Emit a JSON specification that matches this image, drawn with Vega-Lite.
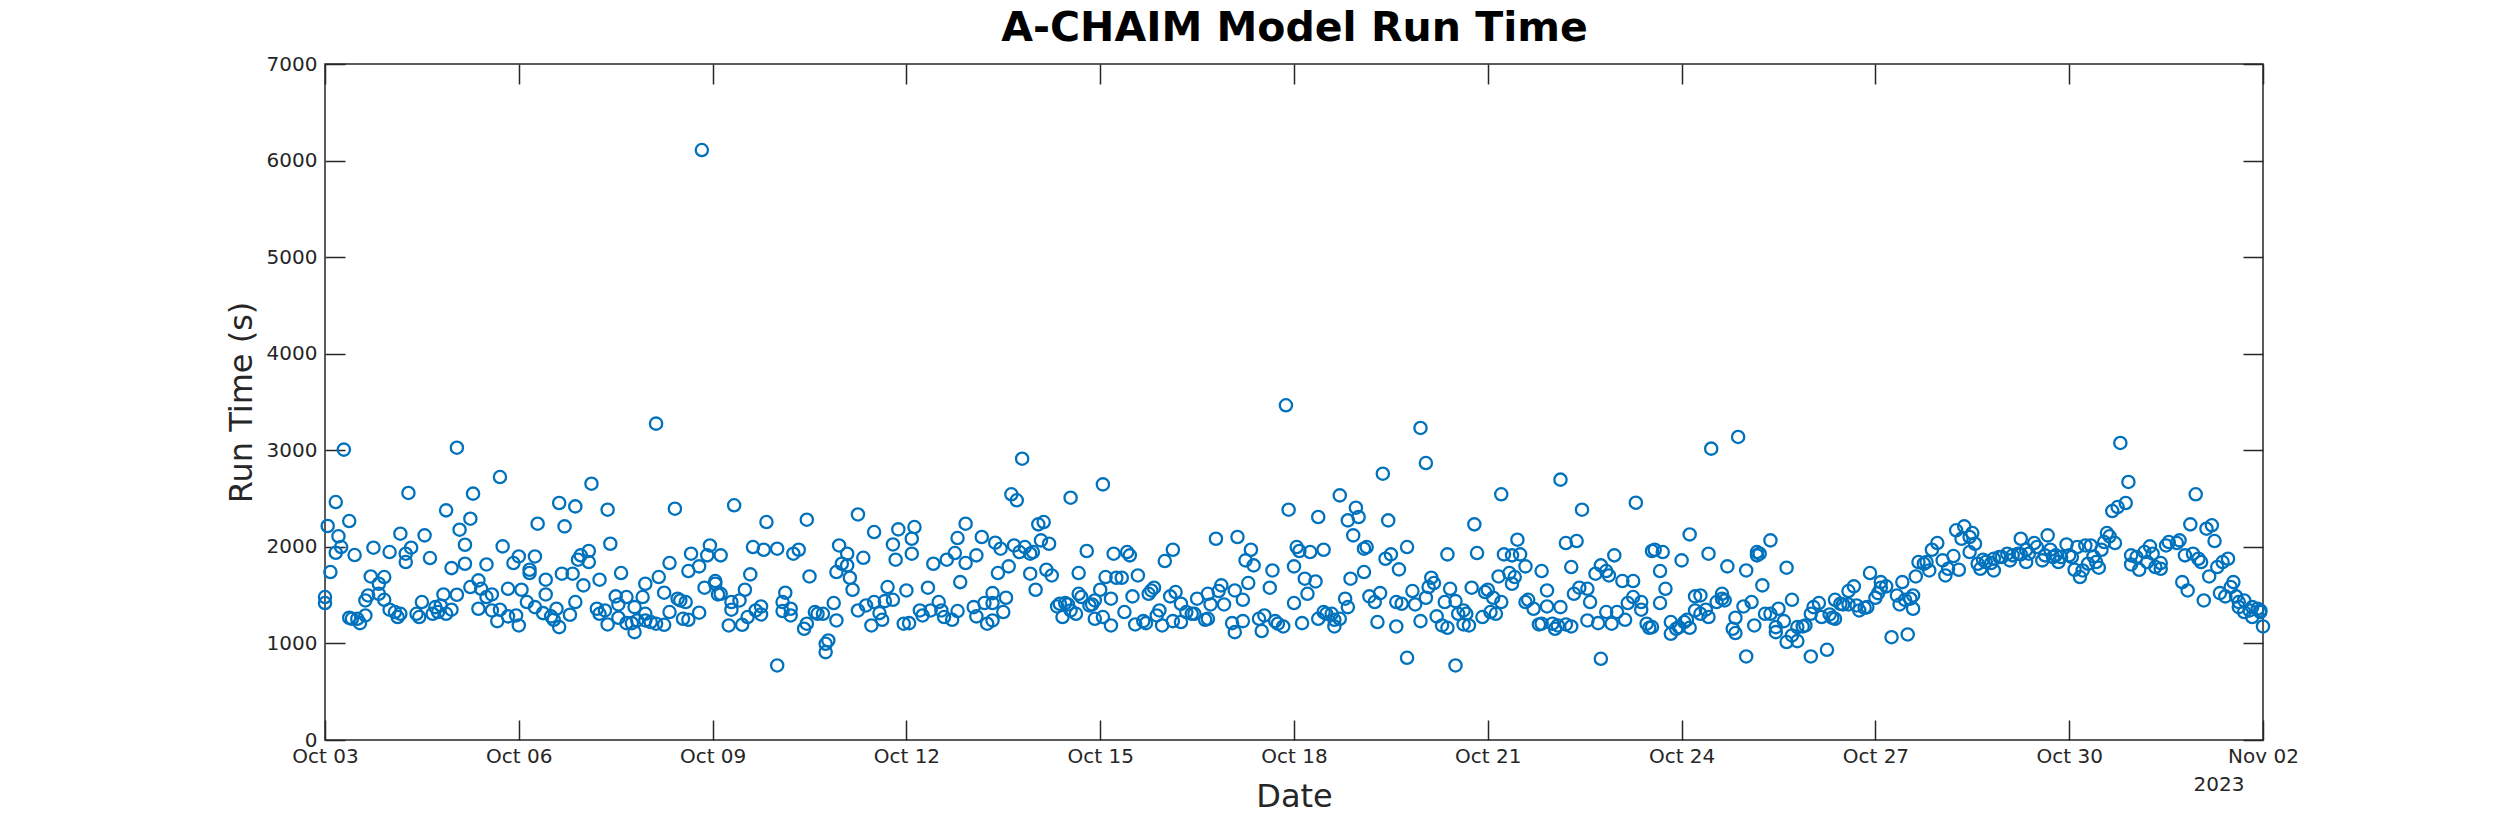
{
  "$schema": "https://vega.github.io/schema/vega-lite/v6.json",
  "background": "white",
  "autosize": {"type": "none"},
  "padding": {"left": 325, "top": 64, "right": 237, "bottom": 93},
  "width": 1938,
  "height": 676,
  "data": {
    "values": [
      {"t":"2023-10-03T00:00","v":1480},{"t":"2023-10-03T00:00","v":1418},{"t":"2023-10-03T01:00","v":2216},{"t":"2023-10-03T02:00","v":1739},
      {"t":"2023-10-03T04:00","v":2464},{"t":"2023-10-03T04:00","v":1939},{"t":"2023-10-03T05:00","v":2109},{"t":"2023-10-03T06:00","v":1998},
      {"t":"2023-10-03T07:00","v":3007},{"t":"2023-10-03T09:00","v":2267},{"t":"2023-10-03T09:00","v":1266},{"t":"2023-10-03T11:00","v":1915},
      {"t":"2023-10-03T10:00","v":1255},{"t":"2023-10-03T12:00","v":1255},{"t":"2023-10-03T13:00","v":1210},{"t":"2023-10-03T15:00","v":1290},
      {"t":"2023-10-03T15:00","v":1445},{"t":"2023-10-03T16:00","v":1497},{"t":"2023-10-03T17:00","v":1694},{"t":"2023-10-03T18:00","v":1991},
      {"t":"2023-10-03T20:00","v":1618},{"t":"2023-10-03T20:00","v":1514},{"t":"2023-10-03T22:00","v":1687},{"t":"2023-10-03T22:00","v":1452},
      {"t":"2023-10-04T00:00","v":1946},{"t":"2023-10-04T00:00","v":1349},{"t":"2023-10-04T02:00","v":1325},{"t":"2023-10-04T03:00","v":1273},
      {"t":"2023-10-04T04:00","v":2136},{"t":"2023-10-04T04:00","v":1307},{"t":"2023-10-04T06:00","v":1929},{"t":"2023-10-04T06:00","v":1843},
      {"t":"2023-10-04T07:00","v":2558},{"t":"2023-10-04T08:00","v":1991},{"t":"2023-10-04T10:00","v":1307},{"t":"2023-10-04T11:00","v":1273},
      {"t":"2023-10-04T12:00","v":1428},{"t":"2023-10-04T13:00","v":2119},{"t":"2023-10-04T15:00","v":1884},{"t":"2023-10-04T16:00","v":1307},
      {"t":"2023-10-04T17:00","v":1376},{"t":"2023-10-04T18:00","v":1325},{"t":"2023-10-04T19:00","v":1393},{"t":"2023-10-04T20:00","v":1507},
      {"t":"2023-10-04T21:00","v":2378},{"t":"2023-10-04T21:00","v":1307},{"t":"2023-10-04T23:00","v":1780},{"t":"2023-10-04T23:00","v":1349},
      {"t":"2023-10-05T01:00","v":3027},{"t":"2023-10-05T01:00","v":1504},{"t":"2023-10-05T02:00","v":2178},{"t":"2023-10-05T04:00","v":2022},
      {"t":"2023-10-05T04:00","v":1825},{"t":"2023-10-05T06:00","v":2292},{"t":"2023-10-05T06:00","v":1584},{"t":"2023-10-05T07:00","v":2551},
      {"t":"2023-10-05T09:00","v":1653},{"t":"2023-10-05T09:00","v":1359},{"t":"2023-10-05T10:00","v":1566},{"t":"2023-10-05T12:00","v":1818},
      {"t":"2023-10-05T12:00","v":1480},{"t":"2023-10-05T14:00","v":1342},{"t":"2023-10-05T14:00","v":1507},{"t":"2023-10-05T16:00","v":1231},
      {"t":"2023-10-05T17:00","v":2723},{"t":"2023-10-05T17:00","v":1349},{"t":"2023-10-05T18:00","v":2005},{"t":"2023-10-05T20:00","v":1566},
      {"t":"2023-10-05T20:00","v":1280},{"t":"2023-10-05T22:00","v":1832},{"t":"2023-10-05T23:00","v":1290},
      {"t":"2023-10-06T00:00","v":1186},{"t":"2023-10-06T00:00","v":1901},{"t":"2023-10-06T01:00","v":1556},{"t":"2023-10-06T03:00","v":1428},
      {"t":"2023-10-06T04:00","v":1763},{"t":"2023-10-06T04:00","v":1729},{"t":"2023-10-06T06:00","v":1901},{"t":"2023-10-06T06:00","v":1376},
      {"t":"2023-10-06T07:00","v":2240},{"t":"2023-10-06T09:00","v":1314},{"t":"2023-10-06T10:00","v":1660},{"t":"2023-10-06T10:00","v":1507},
      {"t":"2023-10-06T12:00","v":1280},{"t":"2023-10-06T13:00","v":1245},{"t":"2023-10-06T14:00","v":1359},{"t":"2023-10-06T15:00","v":1169},
      {"t":"2023-10-06T15:00","v":2454},{"t":"2023-10-06T16:00","v":1722},{"t":"2023-10-06T17:00","v":2212},{"t":"2023-10-06T19:00","v":1297},
      {"t":"2023-10-06T20:00","v":1722},{"t":"2023-10-06T21:00","v":2419},{"t":"2023-10-06T21:00","v":1428},{"t":"2023-10-06T22:00","v":1867},
      {"t":"2023-10-06T23:00","v":1912},
      {"t":"2023-10-07T00:00","v":1601},{"t":"2023-10-07T02:00","v":1957},{"t":"2023-10-07T02:00","v":1843},{"t":"2023-10-07T03:00","v":2654},
      {"t":"2023-10-07T05:00","v":1359},{"t":"2023-10-07T06:00","v":1307},{"t":"2023-10-07T06:00","v":1660},{"t":"2023-10-07T08:00","v":1342},
      {"t":"2023-10-07T09:00","v":2385},{"t":"2023-10-07T09:00","v":1197},{"t":"2023-10-07T10:00","v":2032},{"t":"2023-10-07T12:00","v":1487},
      {"t":"2023-10-07T13:00","v":1404},{"t":"2023-10-07T13:00","v":1266},{"t":"2023-10-07T14:00","v":1729},{"t":"2023-10-07T16:00","v":1480},
      {"t":"2023-10-07T16:00","v":1210},{"t":"2023-10-07T18:00","v":1210},{"t":"2023-10-07T19:00","v":1376},{"t":"2023-10-07T19:00","v":1117},
      {"t":"2023-10-07T20:00","v":1238},{"t":"2023-10-07T22:00","v":1480},{"t":"2023-10-07T23:00","v":1618},{"t":"2023-10-07T23:00","v":1307},
      {"t":"2023-10-07T23:00","v":1238},
      {"t":"2023-10-08T01:00","v":1221},{"t":"2023-10-08T03:00","v":3276},{"t":"2023-10-08T04:00","v":1687},{"t":"2023-10-08T03:00","v":1204},
      {"t":"2023-10-08T06:00","v":1525},{"t":"2023-10-08T06:00","v":1193},{"t":"2023-10-08T08:00","v":1832},{"t":"2023-10-08T08:00","v":1325},
      {"t":"2023-10-08T10:00","v":2395},{"t":"2023-10-08T11:00","v":1463},{"t":"2023-10-08T12:00","v":1445},{"t":"2023-10-08T13:00","v":1255},
      {"t":"2023-10-08T14:00","v":1428},{"t":"2023-10-08T15:00","v":1749},{"t":"2023-10-08T15:00","v":1245},{"t":"2023-10-08T16:00","v":1929},
      {"t":"2023-10-08T19:00","v":1798},{"t":"2023-10-08T19:00","v":1318},{"t":"2023-10-08T20:00","v":6109},{"t":"2023-10-08T21:00","v":1577},
      {"t":"2023-10-08T22:00","v":1912},{"t":"2023-10-08T23:00","v":2015},
      {"t":"2023-10-09T01:00","v":1646},{"t":"2023-10-09T01:00","v":1618},{"t":"2023-10-09T02:00","v":1507},{"t":"2023-10-09T03:00","v":1912},
      {"t":"2023-10-09T03:00","v":1514},{"t":"2023-10-09T06:00","v":1186},{"t":"2023-10-09T07:00","v":1349},{"t":"2023-10-09T07:00","v":1428},
      {"t":"2023-10-09T08:00","v":2430},{"t":"2023-10-09T10:00","v":1445},{"t":"2023-10-09T11:00","v":1193},{"t":"2023-10-09T12:00","v":1556},
      {"t":"2023-10-09T13:00","v":1273},{"t":"2023-10-09T14:00","v":1715},{"t":"2023-10-09T15:00","v":1998},{"t":"2023-10-09T16:00","v":1342},
      {"t":"2023-10-09T18:00","v":1383},{"t":"2023-10-09T18:00","v":1300},{"t":"2023-10-09T19:00","v":1970},{"t":"2023-10-09T20:00","v":2257},
      {"t":"2023-10-10T00:00","v":772},{"t":"2023-10-10T00:00","v":1981},{"t":"2023-10-10T02:00","v":1428},{"t":"2023-10-10T02:00","v":1335},
      {"t":"2023-10-10T03:00","v":1525},{"t":"2023-10-10T05:00","v":1359},{"t":"2023-10-10T05:00","v":1290},{"t":"2023-10-10T06:00","v":1929},
      {"t":"2023-10-10T08:00","v":1970},{"t":"2023-10-10T10:00","v":1152},{"t":"2023-10-10T11:00","v":2281},{"t":"2023-10-10T11:00","v":1204},
      {"t":"2023-10-10T12:00","v":1694},{"t":"2023-10-10T14:00","v":1325},{"t":"2023-10-10T15:00","v":1307},{"t":"2023-10-10T17:00","v":1307},
      {"t":"2023-10-10T18:00","v":996},{"t":"2023-10-10T18:00","v":910},{"t":"2023-10-10T19:00","v":1031},{"t":"2023-10-10T21:00","v":1418},
      {"t":"2023-10-10T22:00","v":1739},{"t":"2023-10-10T22:00","v":1238},{"t":"2023-10-10T23:00","v":2015},
      {"t":"2023-10-11T00:00","v":1825},{"t":"2023-10-11T02:00","v":1929},{"t":"2023-10-11T02:00","v":1808},{"t":"2023-10-11T03:00","v":1680},
      {"t":"2023-10-11T04:00","v":1556},{"t":"2023-10-11T06:00","v":1342},{"t":"2023-10-11T06:00","v":2336},{"t":"2023-10-11T08:00","v":1887},
      {"t":"2023-10-11T09:00","v":1393},{"t":"2023-10-11T11:00","v":1186},{"t":"2023-10-11T12:00","v":1428},{"t":"2023-10-11T12:00","v":2153},
      {"t":"2023-10-11T14:00","v":1314},{"t":"2023-10-11T15:00","v":1245},{"t":"2023-10-11T16:00","v":1438},{"t":"2023-10-11T17:00","v":1584},
      {"t":"2023-10-11T19:00","v":1452},{"t":"2023-10-11T19:00","v":2025},{"t":"2023-10-11T20:00","v":1867},{"t":"2023-10-11T21:00","v":2181},
      {"t":"2023-10-11T23:00","v":1204},
      {"t":"2023-10-12T00:00","v":1549},{"t":"2023-10-12T01:00","v":1210},{"t":"2023-10-12T02:00","v":1929},{"t":"2023-10-12T02:00","v":2084},
      {"t":"2023-10-12T03:00","v":2205},{"t":"2023-10-12T05:00","v":1342},{"t":"2023-10-12T06:00","v":1290},{"t":"2023-10-12T08:00","v":1577},
      {"t":"2023-10-12T09:00","v":1342},{"t":"2023-10-12T10:00","v":1825},{"t":"2023-10-12T12:00","v":1428},{"t":"2023-10-12T13:00","v":1342},
      {"t":"2023-10-12T14:00","v":1273},{"t":"2023-10-12T15:00","v":1867},{"t":"2023-10-12T17:00","v":1245},{"t":"2023-10-12T18:00","v":1936},
      {"t":"2023-10-12T19:00","v":2091},{"t":"2023-10-12T19:00","v":1335},{"t":"2023-10-12T20:00","v":1635},{"t":"2023-10-12T22:00","v":1832},
      {"t":"2023-10-12T22:00","v":2240},
      {"t":"2023-10-13T01:00","v":1376},{"t":"2023-10-13T02:00","v":1912},{"t":"2023-10-13T02:00","v":1280},{"t":"2023-10-13T04:00","v":2102},
      {"t":"2023-10-13T05:00","v":1418},{"t":"2023-10-13T06:00","v":1204},{"t":"2023-10-13T08:00","v":1418},{"t":"2023-10-13T08:00","v":1521},
      {"t":"2023-10-13T08:00","v":1238},{"t":"2023-10-13T09:00","v":2043},{"t":"2023-10-13T10:00","v":1729},{"t":"2023-10-13T11:00","v":1981},
      {"t":"2023-10-13T12:00","v":1325},{"t":"2023-10-13T13:00","v":1473},{"t":"2023-10-13T14:00","v":1798},{"t":"2023-10-13T15:00","v":2544},
      {"t":"2023-10-13T16:00","v":2015},{"t":"2023-10-13T17:00","v":2482},{"t":"2023-10-13T18:00","v":1946},{"t":"2023-10-13T19:00","v":2913},
      {"t":"2023-10-13T20:00","v":1998},{"t":"2023-10-13T22:00","v":1929},{"t":"2023-10-13T22:00","v":1722},{"t":"2023-10-13T23:00","v":1946},
      {"t":"2023-10-14T00:00","v":1556},{"t":"2023-10-14T01:00","v":2233},{"t":"2023-10-14T02:00","v":2067},{"t":"2023-10-14T03:00","v":2257},
      {"t":"2023-10-14T04:00","v":1763},{"t":"2023-10-14T05:00","v":2032},{"t":"2023-10-14T06:00","v":1704},{"t":"2023-10-14T08:00","v":1383},
      {"t":"2023-10-14T09:00","v":1411},{"t":"2023-10-14T10:00","v":1273},{"t":"2023-10-14T11:00","v":1418},{"t":"2023-10-14T12:00","v":1404},
      {"t":"2023-10-14T13:00","v":2509},{"t":"2023-10-14T13:00","v":1342},{"t":"2023-10-14T15:00","v":1307},{"t":"2023-10-14T16:00","v":1729},
      {"t":"2023-10-14T16:00","v":1514},{"t":"2023-10-14T17:00","v":1480},{"t":"2023-10-14T19:00","v":1957},{"t":"2023-10-14T20:00","v":1393},
      {"t":"2023-10-14T21:00","v":1404},{"t":"2023-10-14T22:00","v":1255},{"t":"2023-10-14T22:00","v":1445},
      {"t":"2023-10-15T00:00","v":1556},{"t":"2023-10-15T01:00","v":2647},{"t":"2023-10-15T01:00","v":1273},{"t":"2023-10-15T02:00","v":1687},
      {"t":"2023-10-15T04:00","v":1463},{"t":"2023-10-15T04:00","v":1186},{"t":"2023-10-15T05:00","v":1929},{"t":"2023-10-15T06:00","v":1680},
      {"t":"2023-10-15T08:00","v":1680},{"t":"2023-10-15T09:00","v":1325},{"t":"2023-10-15T10:00","v":1946},{"t":"2023-10-15T11:00","v":1912},
      {"t":"2023-10-15T12:00","v":1487},{"t":"2023-10-15T13:00","v":1197},{"t":"2023-10-15T14:00","v":1704},{"t":"2023-10-15T16:00","v":1231},
      {"t":"2023-10-15T17:00","v":1210},{"t":"2023-10-15T18:00","v":1514},{"t":"2023-10-15T19:00","v":1549},{"t":"2023-10-15T20:00","v":1577},
      {"t":"2023-10-15T21:00","v":1290},{"t":"2023-10-15T22:00","v":1342},{"t":"2023-10-15T23:00","v":1186},
      {"t":"2023-10-16T00:00","v":1853},{"t":"2023-10-16T02:00","v":1487},{"t":"2023-10-16T03:00","v":1970},{"t":"2023-10-16T03:00","v":1231},
      {"t":"2023-10-16T04:00","v":1532},{"t":"2023-10-16T06:00","v":1411},{"t":"2023-10-16T06:00","v":1221},{"t":"2023-10-16T08:00","v":1325},
      {"t":"2023-10-16T10:00","v":1307},{"t":"2023-10-16T11:00","v":1307},{"t":"2023-10-16T12:00","v":1463},{"t":"2023-10-16T15:00","v":1245},
      {"t":"2023-10-16T16:00","v":1514},{"t":"2023-10-16T16:00","v":1255},{"t":"2023-10-16T17:00","v":1404},{"t":"2023-10-16T19:00","v":2084},
      {"t":"2023-10-16T20:00","v":1542},{"t":"2023-10-16T21:00","v":1601},{"t":"2023-10-16T22:00","v":1404},
      {"t":"2023-10-17T01:00","v":1210},{"t":"2023-10-17T02:00","v":1117},{"t":"2023-10-17T02:00","v":1549},{"t":"2023-10-17T03:00","v":2102},
      {"t":"2023-10-17T05:00","v":1452},{"t":"2023-10-17T05:00","v":1231},{"t":"2023-10-17T06:00","v":1860},{"t":"2023-10-17T07:00","v":1625},
      {"t":"2023-10-17T08:00","v":1970},{"t":"2023-10-17T09:00","v":1808},{"t":"2023-10-17T11:00","v":1255},{"t":"2023-10-17T12:00","v":1128},
      {"t":"2023-10-17T13:00","v":1290},{"t":"2023-10-17T15:00","v":1577},{"t":"2023-10-17T16:00","v":1756},{"t":"2023-10-17T17:00","v":1231},
      {"t":"2023-10-17T18:00","v":1204},{"t":"2023-10-17T20:00","v":1176},{"t":"2023-10-17T21:00","v":3466},{"t":"2023-10-17T22:00","v":2385},
      {"t":"2023-10-18T00:00","v":1418},{"t":"2023-10-18T00:00","v":1798},{"t":"2023-10-18T01:00","v":1998},{"t":"2023-10-18T02:00","v":1957},
      {"t":"2023-10-18T03:00","v":1210},{"t":"2023-10-18T04:00","v":1670},{"t":"2023-10-18T05:00","v":1514},{"t":"2023-10-18T06:00","v":1946},
      {"t":"2023-10-18T08:00","v":1642},{"t":"2023-10-18T09:00","v":2309},{"t":"2023-10-18T09:00","v":1255},{"t":"2023-10-18T11:00","v":1325},
      {"t":"2023-10-18T11:00","v":1970},{"t":"2023-10-18T12:00","v":1307},{"t":"2023-10-18T14:00","v":1307},{"t":"2023-10-18T15:00","v":1176},
      {"t":"2023-10-18T15:00","v":1245},{"t":"2023-10-18T17:00","v":2533},{"t":"2023-10-18T17:00","v":1255},{"t":"2023-10-18T19:00","v":1463},
      {"t":"2023-10-18T20:00","v":1376},{"t":"2023-10-18T20:00","v":2274},{"t":"2023-10-18T21:00","v":1670},{"t":"2023-10-18T22:00","v":2119},
      {"t":"2023-10-18T23:00","v":2406},
      {"t":"2023-10-19T00:00","v":2309},{"t":"2023-10-19T02:00","v":1981},{"t":"2023-10-19T02:00","v":1739},{"t":"2023-10-19T03:00","v":1998},
      {"t":"2023-10-19T04:00","v":1487},{"t":"2023-10-19T06:00","v":1428},{"t":"2023-10-19T07:00","v":1221},{"t":"2023-10-19T08:00","v":1521},
      {"t":"2023-10-19T09:00","v":2758},{"t":"2023-10-19T10:00","v":1877},{"t":"2023-10-19T11:00","v":2274},{"t":"2023-10-19T12:00","v":1922},
      {"t":"2023-10-19T14:00","v":1428},{"t":"2023-10-19T14:00","v":1176},{"t":"2023-10-19T15:00","v":1767},{"t":"2023-10-19T16:00","v":1411},
      {"t":"2023-10-19T18:00","v":1998},{"t":"2023-10-19T18:00","v":851},{"t":"2023-10-19T20:00","v":1542},{"t":"2023-10-19T21:00","v":1404},
      {"t":"2023-10-19T23:00","v":3231},{"t":"2023-10-19T23:00","v":1231},
      {"t":"2023-10-20T01:00","v":2868},{"t":"2023-10-20T01:00","v":1473},{"t":"2023-10-20T02:00","v":1584},{"t":"2023-10-20T03:00","v":1680},
      {"t":"2023-10-20T04:00","v":1625},{"t":"2023-10-20T05:00","v":1280},{"t":"2023-10-20T07:00","v":1186},{"t":"2023-10-20T08:00","v":1428},
      {"t":"2023-10-20T09:00","v":1162},{"t":"2023-10-20T09:00","v":1922},{"t":"2023-10-20T10:00","v":1566},{"t":"2023-10-20T12:00","v":772},
      {"t":"2023-10-20T12:00","v":1438},{"t":"2023-10-20T13:00","v":1307},{"t":"2023-10-20T15:00","v":1342},{"t":"2023-10-20T15:00","v":1197},
      {"t":"2023-10-20T16:00","v":1307},{"t":"2023-10-20T17:00","v":1186},{"t":"2023-10-20T18:00","v":1577},{"t":"2023-10-20T19:00","v":2233},
      {"t":"2023-10-20T20:00","v":1936},{"t":"2023-10-20T22:00","v":1273},{"t":"2023-10-20T23:00","v":1532},
      {"t":"2023-10-21T00:00","v":1556},{"t":"2023-10-21T01:00","v":1325},{"t":"2023-10-21T02:00","v":1473},{"t":"2023-10-21T03:00","v":1307},
      {"t":"2023-10-21T04:00","v":1694},{"t":"2023-10-21T05:00","v":2544},{"t":"2023-10-21T05:00","v":1428},{"t":"2023-10-21T06:00","v":1922},
      {"t":"2023-10-21T08:00","v":1729},{"t":"2023-10-21T09:00","v":1912},{"t":"2023-10-21T09:00","v":1618},{"t":"2023-10-21T10:00","v":1687},
      {"t":"2023-10-21T11:00","v":2074},{"t":"2023-10-21T12:00","v":1922},{"t":"2023-10-21T14:00","v":1428},{"t":"2023-10-21T14:00","v":1798},
      {"t":"2023-10-21T15:00","v":1452},{"t":"2023-10-21T17:00","v":1359},{"t":"2023-10-21T19:00","v":1197},{"t":"2023-10-21T20:00","v":1204},
      {"t":"2023-10-21T20:00","v":1749},{"t":"2023-10-21T22:00","v":1549},{"t":"2023-10-21T22:00","v":1383},
      {"t":"2023-10-22T00:00","v":1204},{"t":"2023-10-22T01:00","v":1152},{"t":"2023-10-22T02:00","v":1186},{"t":"2023-10-22T03:00","v":2696},
      {"t":"2023-10-22T03:00","v":1376},{"t":"2023-10-22T05:00","v":2039},{"t":"2023-10-22T05:00","v":1197},{"t":"2023-10-22T07:00","v":1791},
      {"t":"2023-10-22T07:00","v":1176},{"t":"2023-10-22T08:00","v":1514},{"t":"2023-10-22T09:00","v":2060},{"t":"2023-10-22T10:00","v":1577},
      {"t":"2023-10-22T11:00","v":2385},{"t":"2023-10-22T13:00","v":1566},{"t":"2023-10-22T13:00","v":1238},{"t":"2023-10-22T14:00","v":1428},
      {"t":"2023-10-22T16:00","v":1722},{"t":"2023-10-22T17:00","v":1210},{"t":"2023-10-22T18:00","v":841},{"t":"2023-10-22T18:00","v":1808},
      {"t":"2023-10-22T20:00","v":1749},{"t":"2023-10-22T20:00","v":1325},{"t":"2023-10-22T21:00","v":1704},{"t":"2023-10-22T22:00","v":1204},
      {"t":"2023-10-22T23:00","v":1912},
      {"t":"2023-10-23T00:00","v":1325},{"t":"2023-10-23T02:00","v":1646},{"t":"2023-10-23T03:00","v":1245},{"t":"2023-10-23T04:00","v":1418},
      {"t":"2023-10-23T06:00","v":1646},{"t":"2023-10-23T06:00","v":1480},{"t":"2023-10-23T07:00","v":2457},{"t":"2023-10-23T09:00","v":1428},
      {"t":"2023-10-23T09:00","v":1349},{"t":"2023-10-23T11:00","v":1204},{"t":"2023-10-23T12:00","v":1162},{"t":"2023-10-23T13:00","v":1169},
      {"t":"2023-10-23T13:00","v":1957},{"t":"2023-10-23T14:00","v":1970},{"t":"2023-10-23T16:00","v":1749},{"t":"2023-10-23T16:00","v":1418},
      {"t":"2023-10-23T17:00","v":1946},{"t":"2023-10-23T18:00","v":1566},{"t":"2023-10-23T20:00","v":1221},{"t":"2023-10-23T20:00","v":1100},
      {"t":"2023-10-23T22:00","v":1152},{"t":"2023-10-23T23:00","v":1169},
      {"t":"2023-10-24T00:00","v":1860},{"t":"2023-10-24T01:00","v":1221},{"t":"2023-10-24T02:00","v":1245},{"t":"2023-10-24T03:00","v":2129},
      {"t":"2023-10-24T03:00","v":1162},{"t":"2023-10-24T05:00","v":1487},{"t":"2023-10-24T05:00","v":1342},{"t":"2023-10-24T07:00","v":1497},
      {"t":"2023-10-24T07:00","v":1307},{"t":"2023-10-24T09:00","v":1349},{"t":"2023-10-24T10:00","v":1929},{"t":"2023-10-24T10:00","v":1273},
      {"t":"2023-10-24T11:00","v":3017},{"t":"2023-10-24T13:00","v":1428},{"t":"2023-10-24T15:00","v":1463},{"t":"2023-10-24T15:00","v":1514},
      {"t":"2023-10-24T16:00","v":1445},{"t":"2023-10-24T17:00","v":1798},{"t":"2023-10-24T19:00","v":1152},{"t":"2023-10-24T20:00","v":1107},
      {"t":"2023-10-24T20:00","v":1266},{"t":"2023-10-24T21:00","v":3138},{"t":"2023-10-24T23:00","v":1383},
      {"t":"2023-10-25T00:00","v":865},{"t":"2023-10-25T00:00","v":1756},{"t":"2023-10-25T02:00","v":1428},{"t":"2023-10-25T03:00","v":1186},
      {"t":"2023-10-25T04:00","v":1912},{"t":"2023-10-25T04:00","v":1946},{"t":"2023-10-25T05:00","v":1929},{"t":"2023-10-25T06:00","v":1601},
      {"t":"2023-10-25T07:00","v":1307},{"t":"2023-10-25T09:00","v":1307},{"t":"2023-10-25T09:00","v":2067},{"t":"2023-10-25T11:00","v":1169},
      {"t":"2023-10-25T11:00","v":1117},{"t":"2023-10-25T12:00","v":1359},{"t":"2023-10-25T14:00","v":1231},{"t":"2023-10-25T15:00","v":1014},
      {"t":"2023-10-25T15:00","v":1784},{"t":"2023-10-25T17:00","v":1083},{"t":"2023-10-25T17:00","v":1452},{"t":"2023-10-25T19:00","v":1169},
      {"t":"2023-10-25T19:00","v":1024},{"t":"2023-10-25T21:00","v":1176},{"t":"2023-10-25T22:00","v":1186},
      {"t":"2023-10-26T00:00","v":865},{"t":"2023-10-26T00:00","v":1307},{"t":"2023-10-26T01:00","v":1376},{"t":"2023-10-26T03:00","v":1418},
      {"t":"2023-10-26T04:00","v":1273},{"t":"2023-10-26T06:00","v":934},{"t":"2023-10-26T07:00","v":1300},{"t":"2023-10-26T08:00","v":1266},
      {"t":"2023-10-26T09:00","v":1255},{"t":"2023-10-26T09:00","v":1452},{"t":"2023-10-26T11:00","v":1411},{"t":"2023-10-26T12:00","v":1404},
      {"t":"2023-10-26T14:00","v":1542},{"t":"2023-10-26T14:00","v":1404},{"t":"2023-10-26T16:00","v":1591},{"t":"2023-10-26T17:00","v":1393},
      {"t":"2023-10-26T18:00","v":1342},{"t":"2023-10-26T20:00","v":1369},{"t":"2023-10-26T21:00","v":1376},{"t":"2023-10-26T22:00","v":1729},
      {"t":"2023-10-27T00:00","v":1473},{"t":"2023-10-27T01:00","v":1521},{"t":"2023-10-27T02:00","v":1577},{"t":"2023-10-27T02:00","v":1635},
      {"t":"2023-10-27T04:00","v":1591},{"t":"2023-10-27T06:00","v":1065},{"t":"2023-10-27T08:00","v":1497},{"t":"2023-10-27T09:00","v":1404},
      {"t":"2023-10-27T10:00","v":1635},{"t":"2023-10-27T11:00","v":1452},{"t":"2023-10-27T12:00","v":1093},{"t":"2023-10-27T13:00","v":1463},
      {"t":"2023-10-27T14:00","v":1497},{"t":"2023-10-27T14:00","v":1359},{"t":"2023-10-27T15:00","v":1694},{"t":"2023-10-27T16:00","v":1843},
      {"t":"2023-10-27T18:00","v":1825},{"t":"2023-10-27T19:00","v":1843},{"t":"2023-10-27T20:00","v":1756},{"t":"2023-10-27T21:00","v":1970},
      {"t":"2023-10-27T23:00","v":2039},
      {"t":"2023-10-28T01:00","v":1860},{"t":"2023-10-28T02:00","v":1704},{"t":"2023-10-28T03:00","v":1773},{"t":"2023-10-28T05:00","v":1905},
      {"t":"2023-10-28T06:00","v":2171},{"t":"2023-10-28T07:00","v":1763},{"t":"2023-10-28T08:00","v":2084},{"t":"2023-10-28T09:00","v":2212},
      {"t":"2023-10-28T11:00","v":2102},{"t":"2023-10-28T11:00","v":1946},{"t":"2023-10-28T12:00","v":2143},{"t":"2023-10-28T13:00","v":2032},
      {"t":"2023-10-28T14:00","v":1825},{"t":"2023-10-28T15:00","v":1773},{"t":"2023-10-28T16:00","v":1867},{"t":"2023-10-28T17:00","v":1843},
      {"t":"2023-10-28T19:00","v":1832},{"t":"2023-10-28T20:00","v":1756},{"t":"2023-10-28T20:00","v":1877},{"t":"2023-10-28T22:00","v":1894},
      {"t":"2023-10-28T23:00","v":1894},
      {"t":"2023-10-29T01:00","v":1929},{"t":"2023-10-29T02:00","v":1860},{"t":"2023-10-29T03:00","v":1912},{"t":"2023-10-29T05:00","v":1929},
      {"t":"2023-10-29T06:00","v":2084},{"t":"2023-10-29T06:00","v":1922},{"t":"2023-10-29T08:00","v":1970},{"t":"2023-10-29T08:00","v":1843},
      {"t":"2023-10-29T09:00","v":1929},{"t":"2023-10-29T11:00","v":2039},{"t":"2023-10-29T12:00","v":1998},{"t":"2023-10-29T14:00","v":1860},
      {"t":"2023-10-29T15:00","v":1912},{"t":"2023-10-29T16:00","v":2119},{"t":"2023-10-29T17:00","v":1970},{"t":"2023-10-29T18:00","v":1894},
      {"t":"2023-10-29T19:00","v":1912},{"t":"2023-10-29T20:00","v":1843},{"t":"2023-10-29T21:00","v":1894},{"t":"2023-10-29T23:00","v":2025},
      {"t":"2023-10-30T00:00","v":1912},{"t":"2023-10-30T01:00","v":1894},{"t":"2023-10-30T02:00","v":1763},{"t":"2023-10-30T03:00","v":1998},
      {"t":"2023-10-30T04:00","v":1687},{"t":"2023-10-30T05:00","v":1756},{"t":"2023-10-30T06:00","v":2015},{"t":"2023-10-30T07:00","v":1825},
      {"t":"2023-10-30T08:00","v":2015},{"t":"2023-10-30T09:00","v":1901},{"t":"2023-10-30T10:00","v":1843},{"t":"2023-10-30T11:00","v":1784},
      {"t":"2023-10-30T12:00","v":1970},{"t":"2023-10-30T13:00","v":2050},{"t":"2023-10-30T14:00","v":2143},{"t":"2023-10-30T15:00","v":2109},
      {"t":"2023-10-30T16:00","v":2371},{"t":"2023-10-30T17:00","v":2039},{"t":"2023-10-30T18:00","v":2412},{"t":"2023-10-30T19:00","v":3076},
      {"t":"2023-10-30T21:00","v":2454},{"t":"2023-10-30T22:00","v":2672},{"t":"2023-10-30T23:00","v":1912},{"t":"2023-10-30T23:00","v":1818},
      {"t":"2023-10-31T01:00","v":1894},{"t":"2023-10-31T02:00","v":1763},{"t":"2023-10-31T04:00","v":1946},{"t":"2023-10-31T05:00","v":1843},
      {"t":"2023-10-31T06:00","v":2005},{"t":"2023-10-31T07:00","v":1929},{"t":"2023-10-31T08:00","v":1791},{"t":"2023-10-31T10:00","v":1832},
      {"t":"2023-10-31T10:00","v":1773},{"t":"2023-10-31T12:00","v":2015},{"t":"2023-10-31T13:00","v":2050},{"t":"2023-10-31T16:00","v":2039},
      {"t":"2023-10-31T17:00","v":2067},{"t":"2023-10-31T18:00","v":1635},{"t":"2023-10-31T19:00","v":1912},{"t":"2023-10-31T20:00","v":1549},
      {"t":"2023-10-31T21:00","v":2233},{"t":"2023-10-31T22:00","v":1929},{"t":"2023-10-31T23:00","v":2544},
      {"t":"2023-11-01T00:00","v":1877},{"t":"2023-11-01T01:00","v":1843},{"t":"2023-11-01T02:00","v":1445},{"t":"2023-11-01T03:00","v":2188},
      {"t":"2023-11-01T04:00","v":1694},{"t":"2023-11-01T05:00","v":2223},{"t":"2023-11-01T06:00","v":2060},{"t":"2023-11-01T07:00","v":1791},
      {"t":"2023-11-01T08:00","v":1521},{"t":"2023-11-01T09:00","v":1843},{"t":"2023-11-01T10:00","v":1487},{"t":"2023-11-01T11:00","v":1877},
      {"t":"2023-11-01T12:00","v":1584},{"t":"2023-11-01T13:00","v":1635},{"t":"2023-11-01T14:00","v":1487},{"t":"2023-11-01T15:00","v":1428},
      {"t":"2023-11-01T15:00","v":1376},{"t":"2023-11-01T17:00","v":1445},{"t":"2023-11-01T17:00","v":1325},{"t":"2023-11-01T19:00","v":1342},
      {"t":"2023-11-01T20:00","v":1273},{"t":"2023-11-01T20:00","v":1376},{"t":"2023-11-01T22:00","v":1359},{"t":"2023-11-01T23:00","v":1342},
      {"t":"2023-11-01T23:00","v":1325},{"t":"2023-11-02T00:00","v":1176}
    ]
  },
  "layer": [
    {
      "mark": {"type": "point", "shape": "circle", "filled": false, "size": 150, "strokeWidth": 2.3, "color": "#0072BD", "opacity": 1},
      "encoding": {
        "x": {
          "field": "t",
          "type": "temporal",
          "title": "Date",
          "scale": {"domain": [{"year": 2023, "month": 10, "date": 3}, {"year": 2023, "month": 11, "date": 2}], "nice": false},
          "axis": {
            "orient": "bottom",
            "offset": -20,
            "values": [
              {"year": 2023, "month": 10, "date": 3}, {"year": 2023, "month": 10, "date": 6}, {"year": 2023, "month": 10, "date": 9},
              {"year": 2023, "month": 10, "date": 12}, {"year": 2023, "month": 10, "date": 15}, {"year": 2023, "month": 10, "date": 18},
              {"year": 2023, "month": 10, "date": 21}, {"year": 2023, "month": 10, "date": 24}, {"year": 2023, "month": 10, "date": 27},
              {"year": 2023, "month": 10, "date": 30}, {"year": 2023, "month": 11, "date": 2}
            ],
            "format": "%b %d",
            "labelExpr": "datum.label == 'Nov 02' ? ['Nov 02', '2023\u00a0\u00a0\u00a0\u00a0\u00a0\u00a0\u00a0\u00a0\u00a0\u00a0\u00a0\u00a0\u00a0\u00a0\u200b'] : datum.label",
            "labelFlush": false,
            "labelOverlap": false,
            "labelLineHeight": 28,
            "tickSize": 20,
            "labelPadding": 6,
            "titleY": 86,
            "titleBaseline": "alphabetic"
          }
        },
        "y": {
          "field": "v",
          "type": "quantitative",
          "title": "Run Time (s)",
          "scale": {"domain": [0, 7000], "nice": false},
          "axis": {
            "offset": -20,
            "values": [0, 1000, 2000, 3000, 4000, 5000, 6000, 7000],
            "format": "d",
            "tickSize": 20,
            "labelPadding": 8,
            "titleX": -94,
            "titleAngle": -90,
            "titleBaseline": "alphabetic"
          }
        }
      }
    },
    {
      "mark": {"type": "point", "opacity": 0},
      "encoding": {
        "x": {
          "field": "t",
          "type": "temporal",
          "title": "A-CHAIM Model Run Time",
          "axis": {
            "orient": "top",
            "offset": -20,
            "values": [
              {"year": 2023, "month": 10, "date": 3}, {"year": 2023, "month": 10, "date": 6}, {"year": 2023, "month": 10, "date": 9},
              {"year": 2023, "month": 10, "date": 12}, {"year": 2023, "month": 10, "date": 15}, {"year": 2023, "month": 10, "date": 18},
              {"year": 2023, "month": 10, "date": 21}, {"year": 2023, "month": 10, "date": 24}, {"year": 2023, "month": 10, "date": 27},
              {"year": 2023, "month": 10, "date": 30}, {"year": 2023, "month": 11, "date": 2}
            ],
            "labels": false,
            "tickSize": 20,
            "titleFontSize": 41,
            "titleFontWeight": "bold",
            "titleColor": "#000000",
            "titleY": -44,
            "titleBaseline": "alphabetic"
          }
        },
        "y": {
          "field": "v",
          "type": "quantitative",
          "axis": {
            "orient": "right",
            "offset": -20,
            "values": [0, 1000, 2000, 3000, 4000, 5000, 6000, 7000],
            "labels": false,
            "title": null,
            "tickSize": 20
          }
        }
      }
    }
  ],
  "resolve": {"axis": {"x": "independent", "y": "independent"}},
  "config": {
    "view": {"stroke": "#262626", "strokeWidth": 1.5},
    "axis": {
      "domain": false,
      "grid": false,
      "labelFont": "DejaVu Sans",
      "labelFontSize": 20,
      "labelColor": "#262626",
      "tickColor": "#262626",
      "tickWidth": 1.5,
      "titleFont": "DejaVu Sans",
      "titleFontSize": 32,
      "titleFontWeight": "normal",
      "titleColor": "#262626"
    }
  }
}
